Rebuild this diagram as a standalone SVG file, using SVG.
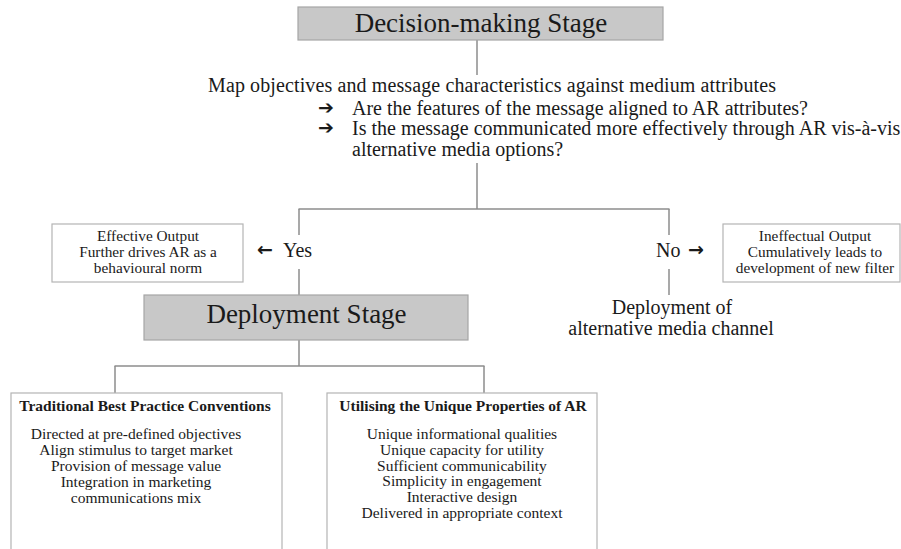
<svg xmlns="http://www.w3.org/2000/svg" width="901" height="549" viewBox="0 0 901 549">
<style>
text{font-family:"Liberation Serif","Times New Roman",serif;fill:#1a1a1a}
.stage{fill:#c8c8c8;stroke:#a6a6a6;stroke-width:1.2}
.box{fill:#fff;stroke:#b4b4b4;stroke-width:1.2}
.conn line{stroke:#8c8c8c;stroke-width:1.5}
.big{font-size:27px;text-anchor:middle}
.mid{font-size:20px}
.sm{font-size:15.3px;text-anchor:middle}
.bd{font-size:15.5px;text-anchor:middle}
.ttl{font-size:15.5px;font-weight:bold;text-anchor:middle}
.arr{font-family:"DejaVu Sans",sans-serif;font-weight:bold;font-size:19px}
</style>
<rect width="901" height="549" fill="#fff"/>
<g class="conn" id="connectors">
<line x1="477" y1="40" x2="477" y2="75"/>
<line x1="477" y1="163" x2="477" y2="209"/>
<line x1="298.5" y1="209" x2="669.5" y2="209"/>
<line x1="299" y1="209" x2="299" y2="235"/>
<line x1="299" y1="269" x2="299" y2="295"/>
<line x1="669" y1="209" x2="669" y2="235"/>
<line x1="669" y1="269" x2="669" y2="295"/>
<line x1="299" y1="340" x2="299" y2="366"/>
<line x1="114.5" y1="366" x2="484.5" y2="366"/>
<line x1="115" y1="366" x2="115" y2="393"/>
<line x1="484" y1="366" x2="484" y2="393"/>
</g>
<g id="decision">
<rect class="stage" x="298" y="7" width="365" height="33"/>
<text class="big" x="481" y="32">Decision-making Stage</text>
</g>
<g id="map">
<text class="mid" x="208" y="92" textLength="568" lengthAdjust="spacing">Map objectives and message characteristics against medium attributes</text>
<text class="arr" x="318" y="114">➔</text>
<text class="mid" x="352" y="115">Are the features of the message aligned to AR attributes?</text>
<text class="arr" x="318" y="134">➔</text>
<text class="mid" x="352" y="135">Is the message communicated more effectively through AR vis-à-vis</text>
<text class="mid" x="352" y="156">alternative media options?</text>
</g>
<g id="yes">
<text class="arr" x="257" y="256">←</text>
<text class="mid" x="283" y="257">Yes</text>
</g>
<g id="no">
<text class="mid" x="656" y="257">No</text>
<text class="arr" x="688" y="256">→</text>
</g>
<g id="effective">
<rect class="box" x="52" y="224" width="191" height="58"/>
<text class="sm" x="148" y="241">Effective Output</text>
<text class="sm" x="148" y="257">Further drives AR as a</text>
<text class="sm" x="148" y="273">behavioural norm</text>
</g>
<g id="ineffectual">
<rect class="box" x="723" y="224" width="177" height="58"/>
<text class="sm" x="815" y="241">Ineffectual Output</text>
<text class="sm" x="815" y="257">Cumulatively leads to</text>
<text class="sm" x="815" y="273">development of new filter</text>
</g>
<g id="deployment">
<rect class="stage" x="144" y="295" width="324" height="45"/>
<text class="big" x="306.5" y="323">Deployment Stage</text>
</g>
<g id="alternative">
<text class="mid" x="672" y="314" text-anchor="middle">Deployment of</text>
<text class="mid" x="671" y="335" text-anchor="middle">alternative media channel</text>
</g>
<g id="traditional">
<rect class="box" x="11" y="393" width="271" height="170"/>
<text class="ttl" x="145" y="411">Traditional Best Practice Conventions</text>
<text class="bd" x="136" y="439">Directed at pre-defined objectives</text>
<text class="bd" x="136" y="455">Align stimulus to target market</text>
<text class="bd" x="136" y="471">Provision of message value</text>
<text class="bd" x="136" y="487">Integration in marketing</text>
<text class="bd" x="136" y="503">communications mix</text>
</g>
<g id="unique">
<rect class="box" x="327" y="393" width="270" height="170"/>
<text class="ttl" x="463" y="411">Utilising the Unique Properties of AR</text>
<text class="bd" x="462" y="439">Unique informational qualities</text>
<text class="bd" x="462" y="455">Unique capacity for utility</text>
<text class="bd" x="462" y="470.5">Sufficient communicability</text>
<text class="bd" x="462" y="486">Simplicity in engagement</text>
<text class="bd" x="462" y="502">Interactive design</text>
<text class="bd" x="462" y="517.5">Delivered in appropriate context</text>
</g>
</svg>
